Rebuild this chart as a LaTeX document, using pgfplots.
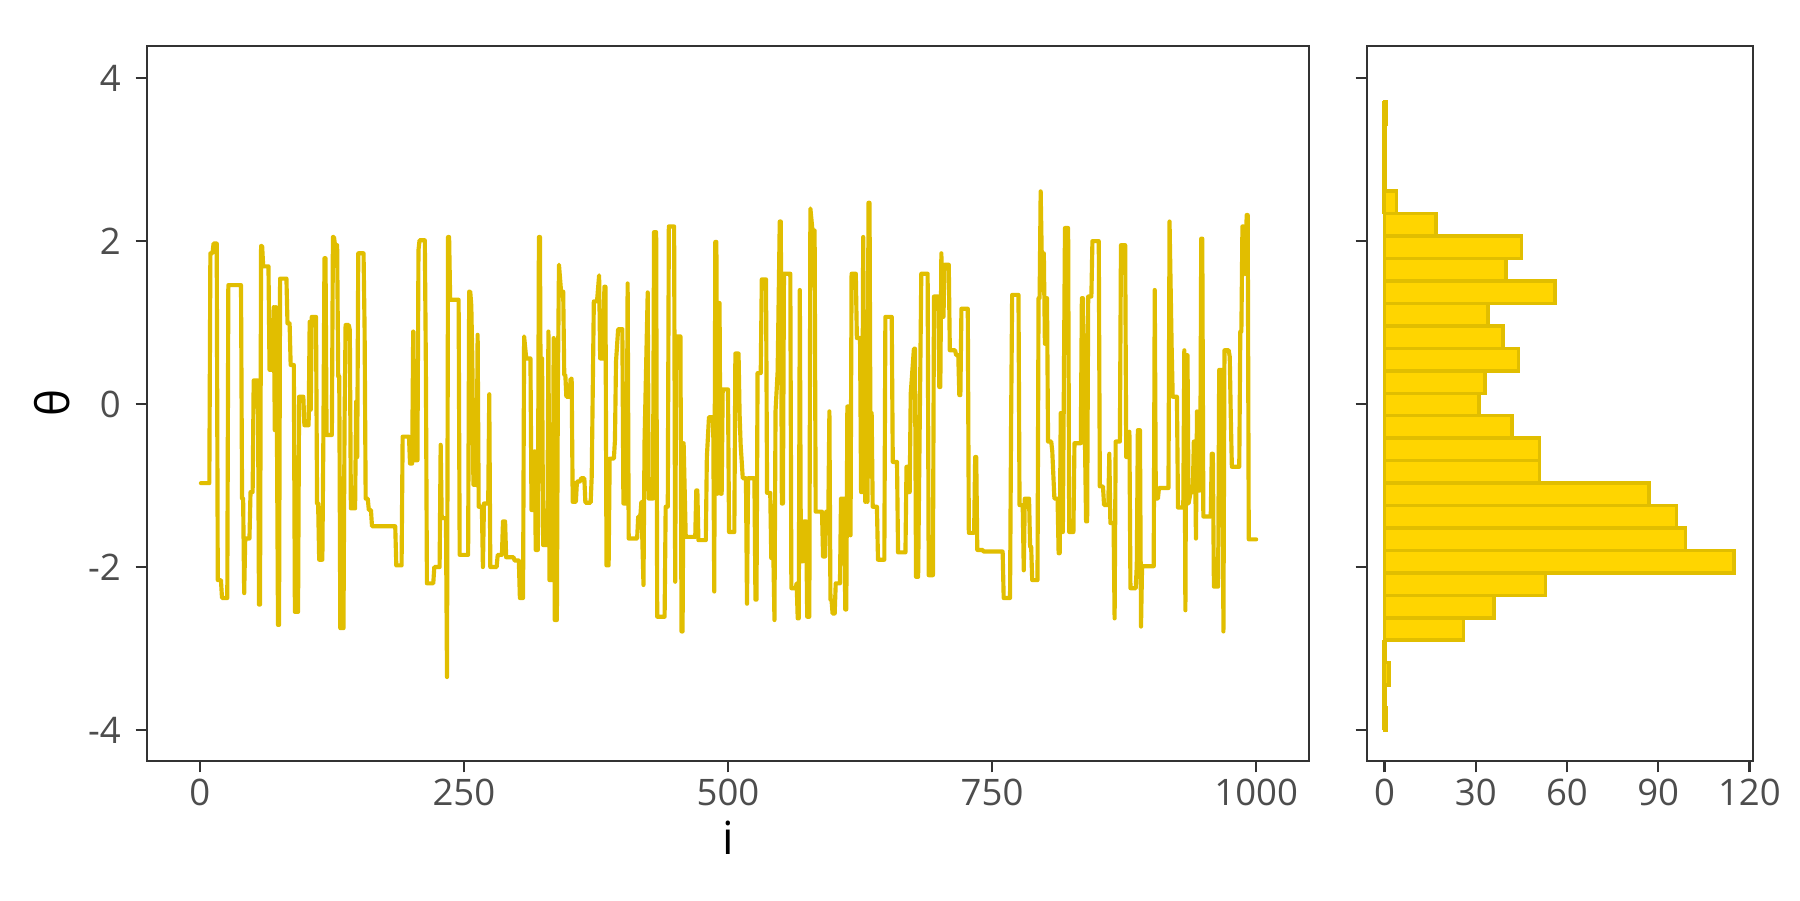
\documentclass[border=0pt]{standalone}
\usepackage{fontspec}
\setmainfont{Open Sans}
\usepackage{pgfplots}
\pgfplotsset{compat=1.18}
\definecolor{trace}{HTML}{E1BE00}
\definecolor{goldfill}{HTML}{FFD500}
\definecolor{axgray}{HTML}{333333}
\definecolor{tickgray}{HTML}{4D4D4D}

\pgfplotstableread{
i theta
1 -0.97
9 -0.97
10 1.85
12 1.85
13 1.97
16 1.97
17 -2.16
20 -2.16
21 -2.38
26 -2.38
27 1.46
39 1.46
40 -1.16
41 -1.16
42 -2.32
43 -1.65
47 -1.65
48 -1.08
50 -1.08
51 0.29
55 0.29
56 -2.46
57 -2.46
58 1.94
59 1.94
60 1.69
65 1.69
66 0.42
69 0.42
70 1.19
71 -0.32
72 1.19
73 -0.32
74 -2.71
75 -2.71
76 1.54
82 1.54
83 0.99
85 0.99
86 0.48
89 0.48
90 -2.55
93 -2.55
94 0.09
98 0.09
99 -0.26
103 -0.26
104 1.01
105 -0.07
106 1.07
110 1.07
111 -1.22
112 -1.22
113 -1.91
116 -1.91
117 -0.36
118 1.79
119 1.79
120 -0.38
125 -0.38
126 2.05
127 2.05
128 1.95
130 1.95
131 0.34
132 0.34
133 -2.75
136 -2.75
137 -0.24
138 0.97
141 0.97
142 0.91
143 -1.28
147 -1.28
148 0.03
149 -0.65
150 1.85
155 1.85
156 0.91
157 -1.16
159 -1.16
160 -1.30
162 -1.30
163 -1.50
185 -1.50
186 -1.98
191 -1.98
192 -0.40
198 -0.40
199 -0.73
201 -0.73
202 0.89
203 -0.69
206 -0.69
207 1.89
208 2.01
213 2.01
214 0.46
215 -2.20
221 -2.20
222 -2.00
227 -2.00
228 -0.50
229 -1.40
233 -1.40
234 -3.35
235 2.05
236 2.05
237 1.28
245 1.28
246 -1.85
254 -1.85
255 1.38
256 1.38
257 1.21
258 0.54
259 -0.99
262 -0.99
263 0.85
264 -1.26
267 -1.26
268 -2.00
269 -1.22
273 -1.22
274 0.12
275 -2.00
281 -2.00
282 -1.85
286 -1.85
287 -1.44
289 -1.44
290 -1.88
297 -1.88
298 -1.92
302 -1.92
303 -2.38
306 -2.38
307 0.83
309 0.56
313 0.56
314 -1.30
316 -1.30
317 -0.58
318 -1.79
320 -1.79
321 2.05
322 2.05
323 -0.95
324 0.56
325 -1.73
329 -1.73
330 0.89
331 -2.16
334 -2.16
335 0.81
336 -2.65
338 -2.65
339 0.29
340 1.71
342 1.38
344 1.38
345 0.36
346 0.36
347 0.09
350 0.09
351 0.31
352 0.31
353 -1.20
356 -1.20
357 -0.95
360 -0.95
361 -0.91
364 -0.91
365 -1.21
370 -1.21
371 -0.89
373 1.26
376 1.26
378 1.58
379 0.56
382 0.56
383 1.44
384 1.44
385 -1.98
387 -1.98
388 -0.67
392 -0.67
393 -0.44
394 0.52
396 0.92
400 0.92
401 -1.22
404 -1.22
405 1.48
406 -1.65
414 -1.65
415 -1.38
417 -1.38
418 -1.20
420 -2.22
421 -0.46
424 1.37
425 -1.16
429 -1.16
430 2.11
432 2.11
433 -2.61
440 -2.61
441 -1.26
443 -1.26
444 2.18
449 2.18
450 -2.18
451 0.83
455 0.83
456 -2.79
457 -2.79
458 -0.48
460 -1.63
469 -1.63
470 -1.06
471 -1.06
472 -1.67
479 -1.67
480 -0.65
482 -0.16
486 -0.16
487 -2.30
488 1.99
489 1.99
490 -1.10
491 1.24
492 1.24
493 -1.10
494 -1.10
495 0.18
500 0.18
501 -1.57
506 -1.57
507 0.62
510 0.62
511 -0.13
512 -0.50
514 -0.91
517 -0.91
518 -2.45
519 -0.91
525 -0.91
526 -2.40
527 -2.40
528 0.38
531 0.38
532 1.53
536 1.53
537 -1.09
540 -1.09
541 -1.89
543 -1.89
544 -2.65
545 -0.09
547 0.40
549 2.24
550 2.24
551 -1.22
552 -1.22
553 1.60
559 1.60
560 -2.26
564 -2.26
565 -2.20
566 -2.63
567 -2.63
568 1.40
569 -1.93
571 -1.93
572 -1.44
574 -1.44
575 -2.61
577 -2.61
578 2.40
580 2.13
582 2.13
583 -1.32
589 -1.32
590 -1.87
592 -1.87
593 -1.32
595 -1.32
596 -0.09
597 -2.40
598 -2.40
599 -2.57
601 -2.57
602 -2.20
606 -2.20
607 -1.16
610 -1.16
611 -2.52
612 -2.52
613 -0.03
615 -0.03
616 -1.61
617 1.60
621 1.60
622 0.81
625 0.81
626 -1.08
627 -1.08
628 2.05
629 0.05
630 -1.20
631 0.05
632 -1.20
633 2.47
634 2.47
635 -0.89
636 -0.11
637 -1.26
641 -1.26
642 -1.91
648 -1.91
649 1.07
655 1.07
656 -0.71
660 -0.71
661 -1.82
668 -1.82
669 -0.77
670 -0.77
671 -1.08
672 -1.08
673 0.13
676 0.68
677 0.68
678 -2.12
680 -2.12
683 1.60
689 1.60
690 -2.10
694 -2.10
695 1.32
699 1.32
700 0.21
701 0.21
702 1.85
703 1.07
704 1.07
705 1.71
709 1.71
710 0.66
715 0.66
716 0.60
718 0.60
719 0.11
720 0.11
721 1.17
727 1.17
728 -1.58
733 -1.58
734 -0.65
735 -0.65
736 -1.79
741 -1.79
742 -1.81
760 -1.81
761 -2.38
767 -2.38
768 -0.24
769 1.34
775 1.34
776 -1.24
779 -1.24
780 -2.04
781 -1.16
785 -1.16
786 -1.75
787 -1.75
788 -2.16
793 -2.16
794 1.30
795 1.30
796 2.61
797 1.85
799 1.85
800 0.74
801 1.30
802 1.30
803 -0.46
806 -0.46
807 -0.58
809 -1.16
812 -1.16
813 -1.83
814 -1.83
815 -0.11
816 -1.57
817 -1.57
819 2.16
822 2.16
823 -1.57
827 -1.57
828 -0.48
834 -0.48
835 1.30
836 1.30
839 -1.44
840 -1.44
841 1.32
844 1.32
845 2.00
851 2.00
852 -1.01
855 -1.01
856 -1.24
860 -1.24
861 -0.61
862 -1.46
865 -1.46
866 -2.63
867 -0.46
871 -0.46
872 1.95
876 1.95
877 -0.65
879 -0.65
880 -0.34
881 -2.26
886 -2.26
887 -1.98
888 -0.32
890 -0.32
891 -2.73
892 -1.99
903 -1.99
904 1.40
905 -1.16
907 -1.16
908 -1.03
917 -1.03
918 2.24
920 0.70
921 0.09
925 0.09
926 -1.27
931 -1.27
932 0.66
933 -2.53
934 0.60
935 0.60
936 -1.22
938 -1.08
940 -1.08
941 -0.46
942 -0.46
943 -1.65
944 -0.09
945 -1.06
947 -1.06
948 2.03
949 2.03
950 -1.38
957 -1.38
958 -0.61
959 -0.61
960 -2.24
964 -2.24
965 0.42
968 0.42
969 -2.79
970 0.66
974 0.66
975 0.58
976 -0.16
977 -0.77
984 -0.77
985 0.89
986 0.89
987 2.18
988 2.18
989 1.60
990 1.60
991 2.32
992 2.32
993 -1.66
1000 -1.66
}\tracedata

\pgfplotstableread{
count lower
0.4 -4.0000
0 -3.7245
1.5 -3.4490
0 -3.1735
26 -2.8980
36 -2.6225
53 -2.3470
115 -2.0715
99 -1.7960
96 -1.5205
87 -1.2450
51 -0.9695
51 -0.6940
42 -0.4185
31 -0.1430
33 0.1325
44 0.4080
39 0.6835
34 0.9590
56 1.2345
40 1.5100
45 1.7855
17 2.0610
4 2.3365
0 2.6120
0 2.8875
0 3.1630
0.4 3.4385
0 3.7140
}\histdata

\pgfplotstableread{
x y
0 -4.0000
0 -2.8980
}\histbaselow

\pgfplotstableread{
x y
0 2.3365
0 3.7140
}\histbasehigh

\begin{document}
\begin{tikzpicture}
\fill[white] (0,0) rectangle (15.24cm,7.62cm);
\path[use as bounding box] (0,0) rectangle (15.24cm,7.62cm);
\pgfplotsset{
  every axis/.append style={
    scale only axis,
    height=6.054cm,
    ymin=-4.38, ymax=4.395,
    ytick={-4,-2,0,2,4},
    axis line style={axgray, line width=0.55pt},
    every tick/.style={axgray, line width=0.55pt},
    tick align=outside,
    major tick length=0.097cm,
    xtick pos=bottom, ytick pos=left,
    tick label style={font=\fontsize{8.8}{10}\selectfont, text=tickgray},
    xticklabel style={yshift=0.065cm},
    label style={font=\fontsize{11}{13}\selectfont, text=black},
  }
}
\begin{axis}[
  at={(1.2446cm,1.1769cm)}, anchor=south west,
  width=9.838cm,
  xmin=-50, xmax=1050,
  xtick={0,250,500,750,1000},
  xticklabels={0,250,500,750,1000},
  yticklabels={-4,-2,0,2,4},
  xlabel={i},
  ylabel={θ},
  xlabel style={at={(axis description cs:0.5,-0.1077)}, anchor=center},
  ylabel style={at={(axis description cs:-0.0813,0.5)}, anchor=center},
]
\addplot[trace, line width=1.0pt, line join=round, line cap=round, mark=none] table[x=i, y=theta] {\tracedata};
\end{axis}

\begin{axis}[
  at={(11.574cm,1.1769cm)}, anchor=south west,
  width=3.268cm,
  xmin=-5.77, xmax=121.2,
  xtick={0,30,60,90,120},
  xticklabels={0,30,60,90,120},
  yticklabels={,,,,},
]
\addplot[sharp plot, draw=trace, line width=1.1pt, mark=none] table[x=x, y=y] {\histbaselow};
\addplot[sharp plot, draw=trace, line width=1.1pt, mark=none] table[x=x, y=y] {\histbasehigh};
\addplot[xbar interval, fill=goldfill, draw=trace, line width=0.85pt] table[x=count, y=lower] {\histdata};
\end{axis}
\end{tikzpicture}
\end{document}
